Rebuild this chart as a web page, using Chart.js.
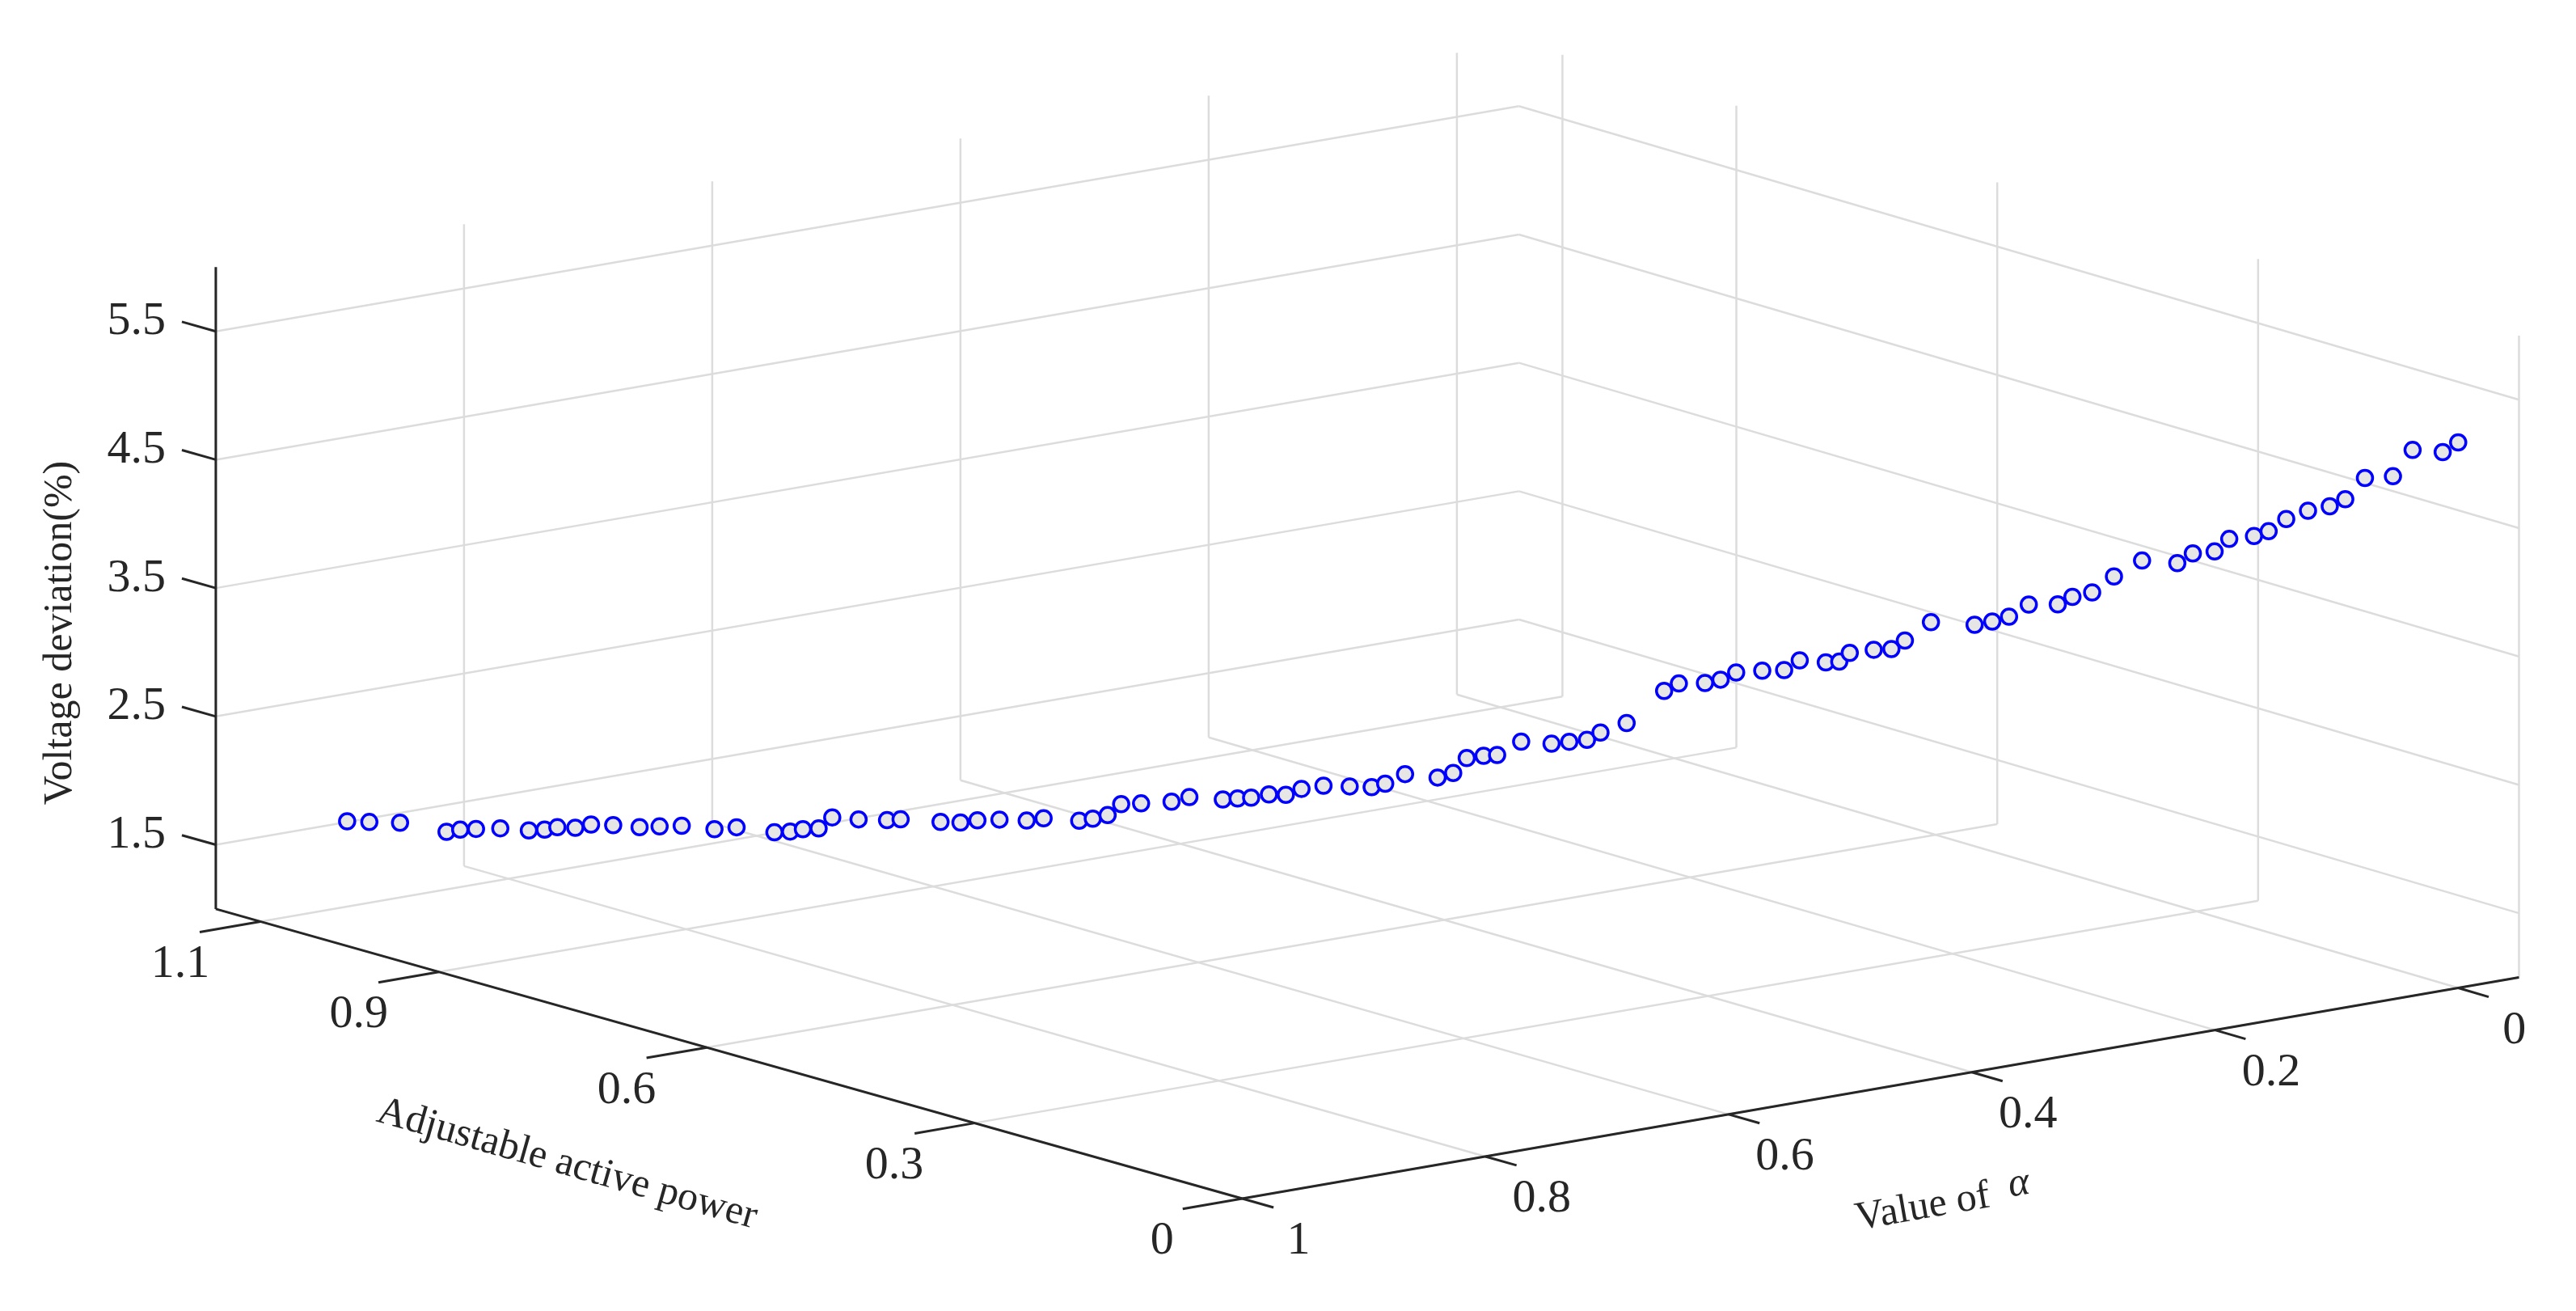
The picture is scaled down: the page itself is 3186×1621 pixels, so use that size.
<!DOCTYPE html>
<html>
<head>
<meta charset="utf-8">
<script src="https://cdn.jsdelivr.net/npm/chart.js@4.4.1/dist/chart.umd.min.js"></script>
<style>
  html, body { margin: 0; padding: 0; background: #fff; }
  #wrap { width: 3186px; height: 1621px; position: relative; }
</style>
</head>
<body>
<div id="wrap"><canvas id="chart"></canvas></div>
<script>
// data: alpha, adjustable active power, voltage deviation (%)
const alphaVals = [0.961,0.951,0.937,0.916,0.910,0.903,0.892,0.879,0.872,0.866,0.858,0.851,0.841,0.829,0.820,0.810,0.795,0.785,0.768,0.761,
  0.755,0.748,0.742,0.730,0.717,0.711,0.693,0.684,0.676,0.666,0.654,0.646,0.630,0.624,0.617,0.611,0.602,0.588,0.580,0.565,
  0.558,0.552,0.544,0.536,0.529,0.519,0.507,0.497,0.491,0.482,0.467,0.460,0.454,0.446,0.440,0.429,0.415,0.407,0.399,0.393,
  0.381,0.364,0.357,0.345,0.338,0.331,0.319,0.309,0.302,0.290,0.284,0.279,0.268,0.260,0.254,0.242,0.222,0.214,0.206,0.197,
  0.184,0.177,0.168,0.158,0.145,0.129,0.122,0.112,0.105,0.094,0.087,0.079,0.069,0.059,0.052,0.043,0.030,0.021,0.007,0.000];
const powerVals = alphaVals.map(a => +(1.1 * a).toFixed(3));
const deviationVals = [1.80,1.80,1.80,1.74,1.76,1.77,1.78,1.77,1.78,1.80,1.80,1.83,1.83,1.82,1.83,1.84,1.82,1.84,1.81,1.82,
  1.84,1.85,1.94,1.93,1.93,1.94,1.93,1.93,1.95,1.96,1.96,1.98,1.97,1.99,2.02,2.11,2.12,2.14,2.18,2.17,
  2.18,2.19,2.22,2.22,2.27,2.30,2.30,2.30,2.33,2.41,2.39,2.43,2.55,2.57,2.58,2.69,2.68,2.70,2.72,2.78,
  2.86,3.12,3.18,3.19,3.22,3.28,3.30,3.31,3.39,3.38,3.39,3.46,3.49,3.50,3.57,3.72,3.71,3.74,3.78,3.88,
  3.89,3.95,3.99,4.12,4.25,4.24,4.32,4.34,4.44,4.47,4.51,4.61,4.68,4.72,4.78,4.95,4.97,5.18,5.17,5.25];

const alphaTicks = [0, 0.2, 0.4, 0.6, 0.8, 1];
const alphaTickLabels = ['0', '0.2', '0.4', '0.6', '0.8', '1'];
const powerTicks = [0, 0.3, 0.6, 0.9, 1.1];
const powerTickLabels = ['0', '0.3', '0.6', '0.9', '1.1'];
const devTicks = [1.5, 2.5, 3.5, 4.5, 5.5];
const devTickLabels = ['1.5', '2.5', '3.5', '4.5', '5.5'];

// axis limits
const aMin = -0.05, aMax = 1, pMin = 0, pMax = 1.15, zMin = 1, zMax = 6;

// view: floor corners in page pixels, vertical scale
const F = [1536, 1493], R = [3128, 1215], L = [256, 1129], B = [1881, 846];
const zPx = 161.3;

function proj(a, p, z) {
  const u = (aMax - a) / (aMax - aMin);
  const v = (p - pMin) / (pMax - pMin);
  const w = [(1 - u) * (1 - v), u * (1 - v), (1 - u) * v, u * v];
  const x = F[0] * w[0] + R[0] * w[1] + L[0] * w[2] + B[0] * w[3];
  const y = F[1] * w[0] + R[1] * w[1] + L[1] * w[2] + B[1] * w[3] - zPx * (z - zMin);
  return { x, y };
}

const GRID = '#dcdcdc';
const AXIS = '#262626';
const datasets = [];
// lower order is drawn on top
const seg = (p1, p2, color, width, order) => datasets.push({
  type: 'line', data: [p1, p2], borderColor: color, borderWidth: width,
  pointRadius: 0, fill: false, tension: 0, order
});

// back wall (p = pMax) and side wall (a = aMin)
alphaTicks.forEach(a => seg(proj(a, pMax, zMin), proj(a, pMax, zMax), GRID, 2.5, 10));
powerTicks.forEach(p => seg(proj(aMin, p, zMin), proj(aMin, p, zMax), GRID, 2.5, 10));
devTicks.forEach(z => {
  seg(proj(aMax, pMax, z), proj(aMin, pMax, z), GRID, 2.5, 10);
  seg(proj(aMin, pMax, z), proj(aMin, pMin, z), GRID, 2.5, 10);
});
// floor
alphaTicks.forEach(a => seg(proj(a, pMin, zMin), proj(a, pMax, zMin), GRID, 2.5, 10));
powerTicks.forEach(p => seg(proj(aMax, p, zMin), proj(aMin, p, zMin), GRID, 2.5, 10));

// axis lines
seg(proj(aMax, pMax, zMin), proj(aMax, pMax, zMax), AXIS, 3, 3);
seg(proj(aMax, pMin, zMin), proj(aMax, pMax, zMin), AXIS, 3, 3);
seg(proj(aMax, pMin, zMin), proj(aMin, pMin, zMin), AXIS, 3, 3);

// tick marks
const tickLabels = [];
devTicks.forEach((z, i) => {
  const s = proj(aMax, pMax, z), e = proj(aMax, pMax + 0.038, z);
  seg(s, e, AXIS, 3, 3);
  tickLabels.push({ text: devTickLabels[i], x: e.x - 20, y: e.y, align: 'right' });
});
powerTicks.forEach((p, i) => {
  const s = proj(aMax, p, zMin), e = proj(aMax + 0.049, p, zMin);
  seg(s, e, AXIS, 3, 3);
  tickLabels.push({ text: powerTickLabels[i], x: s.x - 100, y: s.y + 54, align: 'center' });
});
alphaTicks.forEach((a, i) => {
  const s = proj(a, pMin, zMin), e = proj(a, pMin - 0.035, zMin);
  seg(s, e, AXIS, 3, 3);
  tickLabels.push({ text: alphaTickLabels[i], x: s.x + 70, y: s.y + 54, align: 'center' });
});

// scatter points
datasets.push({
  type: 'scatter',
  data: alphaVals.map((a, i) => proj(a, powerVals[i], deviationVals[i])),
  borderColor: '#0000ff', backgroundColor: '#e6e6e6', borderWidth: 3.5,
  pointRadius: 9.5, pointHoverRadius: 9.5, order: 0
});

const SERIF = '"Liberation Serif", "Times New Roman", serif';

const textPlugin = {
  id: 'texts',
  afterDatasetsDraw(chart) {
    const ctx = chart.ctx;
    const sx = chart.scales.x, sy = chart.scales.y;
    ctx.save();
    ctx.fillStyle = AXIS;
    ctx.font = '58px ' + SERIF;
    ctx.textBaseline = 'middle';
    tickLabels.forEach(t => {
      ctx.textAlign = t.align;
      ctx.fillText(t.text, sx.getPixelForValue(t.x), sy.getPixelForValue(t.y));
    });
    ctx.font = '50px ' + SERIF;
    ctx.textAlign = 'center';
    // z label
    ctx.save();
    ctx.translate(sx.getPixelForValue(62), sy.getPixelForValue(782));
    ctx.rotate(-Math.PI / 2);
    ctx.fillText('Voltage deviation(%)', 0, 0);
    ctx.restore();
    // power label
    ctx.save();
    ctx.translate(sx.getPixelForValue(694), sy.getPixelForValue(1450));
    ctx.rotate(Math.atan2(364, 1280));
    ctx.fillText('Adjustable active power', 0, 0);
    ctx.restore();
    // alpha label
    ctx.save();
    ctx.translate(sx.getPixelForValue(2410), sy.getPixelForValue(1500));
    ctx.rotate(-Math.atan2(265, 1516));
    const part1 = 'Value of  ';
    ctx.textAlign = 'left';
    const w1 = ctx.measureText(part1).width;
    ctx.font = 'italic 50px ' + SERIF;
    const w2 = ctx.measureText('α').width;
    const x0 = -(w1 + w2) / 2;
    ctx.fillText('α', x0 + w1, -8);
    ctx.font = '50px ' + SERIF;
    ctx.fillText(part1, x0, 0);
    ctx.restore();
    ctx.restore();
  }
};

new Chart(document.getElementById('chart').getContext('2d'), {
  type: 'scatter',
  data: { datasets },
  options: {
    responsive: true,
    maintainAspectRatio: false,
    animation: false,
    layout: { padding: 0 },
    plugins: { legend: { display: false }, tooltip: { enabled: false } },
    scales: {
      x: { type: 'linear', min: 0, max: 3186, display: false },
      y: { type: 'linear', min: 0, max: 1621, reverse: true, display: false }
    }
  },
  plugins: [textPlugin]
});
</script>
</body>
</html>
